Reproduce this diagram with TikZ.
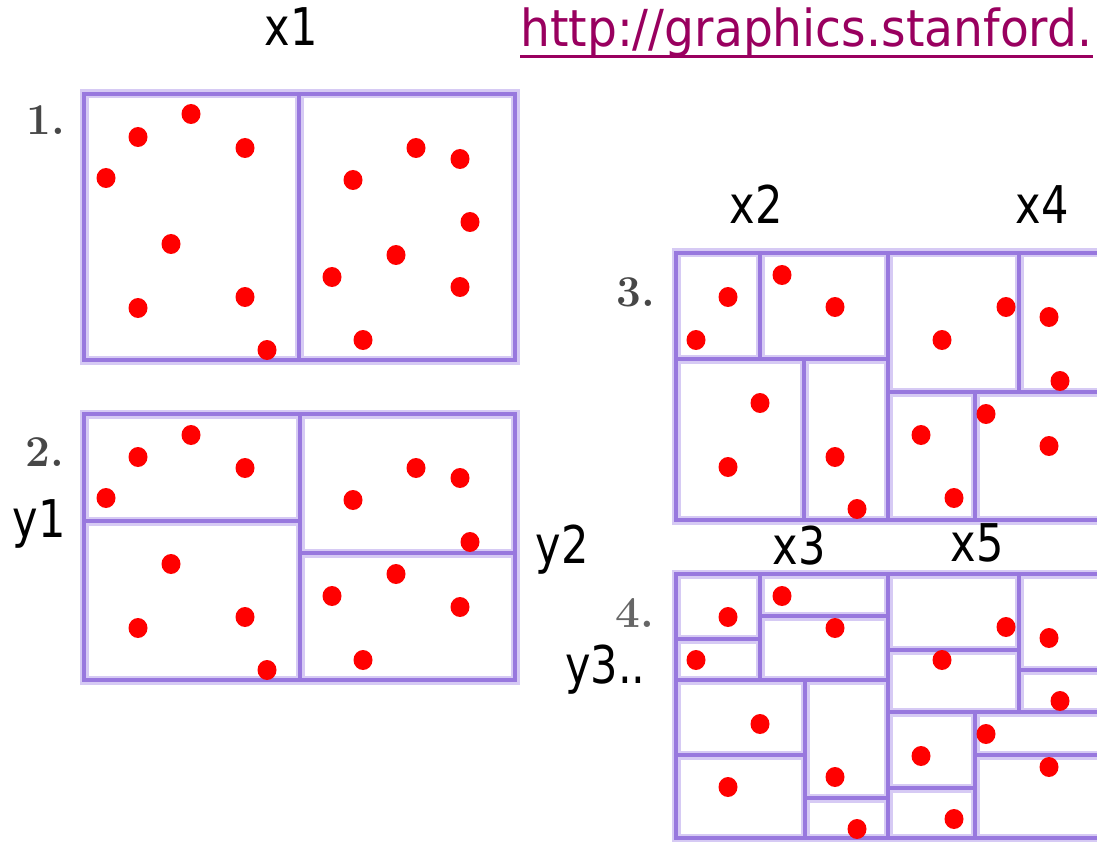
\documentclass[tikz,border=0pt]{standalone}
\usepackage{graphicx}
\usepackage{fontspec}
\newfontfamily\dvsans{DejaVu Sans}
\definecolor{haloC}{RGB}{214,202,244}
\definecolor{lineC}{RGB}{152,120,222}
\definecolor{urlC}{RGB}{153,0,95}
\newcommand\lbltxt[1]{\scalebox{0.83}[1]{\dvsans\fontsize{52}{56}\selectfont #1}}
\tikzset{
  halo/.style={draw=haloC, line width=9pt, line cap=rect},
  gridline/.style={draw=lineC, line width=4.5pt, line cap=rect},
  dotpt/.style={fill=red, draw=none},
  lab/.style={inner sep=0pt, anchor=base},
  num/.style={font=\fontsize{44}{48}\selectfont\bfseries, inner sep=0pt, anchor=base, text=black!72},
}
\begin{document}
\begin{tikzpicture}[x=1pt,y=-1pt]
\useasboundingbox (0,0) rectangle (1097,842);
\begin{scope}
\clip (0,0) rectangle (1097,842);
\def\segs{84/94/515/94, 84/360/515/360, 84/94/84/360, 515/94/515/360, 299/94/299/360,
  84/414/515/414, 84/680/515/680, 84/414/84/680, 515/414/515/680, 300/414/300/680,
  84/521/300/521, 300/553/515/553,
  676/253/1110/253, 676/520/1110/520, 676/253/676/520, 888/253/888/520,
  676/359/888/359, 760/253/760/359, 804/359/804/520, 888/392/1110/392,
  1019/253/1019/392, 975/392/975/520,
  676/574/1110/574, 676/838/1110/838, 676/574/676/838, 888/574/888/838,
  676/680/888/680, 760/574/760/680, 676/639/760/639, 760/616/888/616,
  805/680/805/838, 676/755/805/755, 805/798/888/798, 888/712/1110/712,
  1019/574/1019/712, 888/650/1019/650, 1019/670/1110/670, 975/712/975/838,
  888/788/975/788, 975/755/1110/755}
\foreach \a/\b/\c/\d in \segs {\draw[halo] (\a,\b) -- (\c,\d);}
\foreach \a/\b/\c/\d in \segs {\draw[gridline] (\a,\b) -- (\c,\d);}
\def\dotlist{138/137, 191/114, 245/148, 106/178, 171/244, 138/308, 245/297, 267/350,
  416/148, 460/159, 353/180, 470/222, 396/255, 332/277, 460/287, 363/340,
  138/457, 191/435, 245/468, 106/498, 171/564, 138/628, 245/617, 267/670,
  416/468, 460/478, 353/500, 470/542, 396/574, 332/596, 460/607, 363/660,
  728/297, 696/340, 782/275, 835/307, 942/340, 1006/307, 1049/317, 1060/381,
  760/403, 728/467, 835/457, 857/509, 921/435, 954/498, 986/414, 1049/446,
  728/617, 782/596, 835/628, 696/660, 942/660, 1006/627, 1049/638, 1060/701,
  760/724, 728/787, 835/777, 857/829, 921/756, 954/819, 986/734, 1049/767}
\foreach \p/\q in \dotlist {\fill[dotpt] (\p,\q) ellipse [x radius=9.5, y radius=10];}
\end{scope}
\node[lab] (x1) at (291,46) {\lbltxt{x1}};
\node[lab] (x2) at (756,224) {\lbltxt{x2}};
\node[lab] (x4) at (1042,224) {\lbltxt{x4}};
\node[lab] (x3) at (799,564) {\lbltxt{x3}};
\node[lab] (x5) at (977,561) {\lbltxt{x5}};
\node[lab] (y1) at (39,537) {\lbltxt{y1}};
\node[lab] (y2) at (562,563) {\lbltxt{y2}};
\node[lab, anchor=base west] (y3) at (565,683) {\lbltxt{y3..}};
\node[num] (n1) at (46,135) {1.};
\node[num] (n2) at (45,466) {2.};
\node[num] (n3) at (636,306) {3.};
\node[num, text=black!60] (n4) at (635,627) {4.};
\node[text=urlC, inner sep=0pt, anchor=base west] (url) at (520,47) {\scalebox{0.925}[1]{\dvsans\fontsize{51}{56}\selectfont http://graphics.stanford.}};
\draw[urlC, line width=3pt] ([yshift=-10pt]url.base west) -- ([yshift=-10pt]url.base east);
\end{tikzpicture}
\end{document}
